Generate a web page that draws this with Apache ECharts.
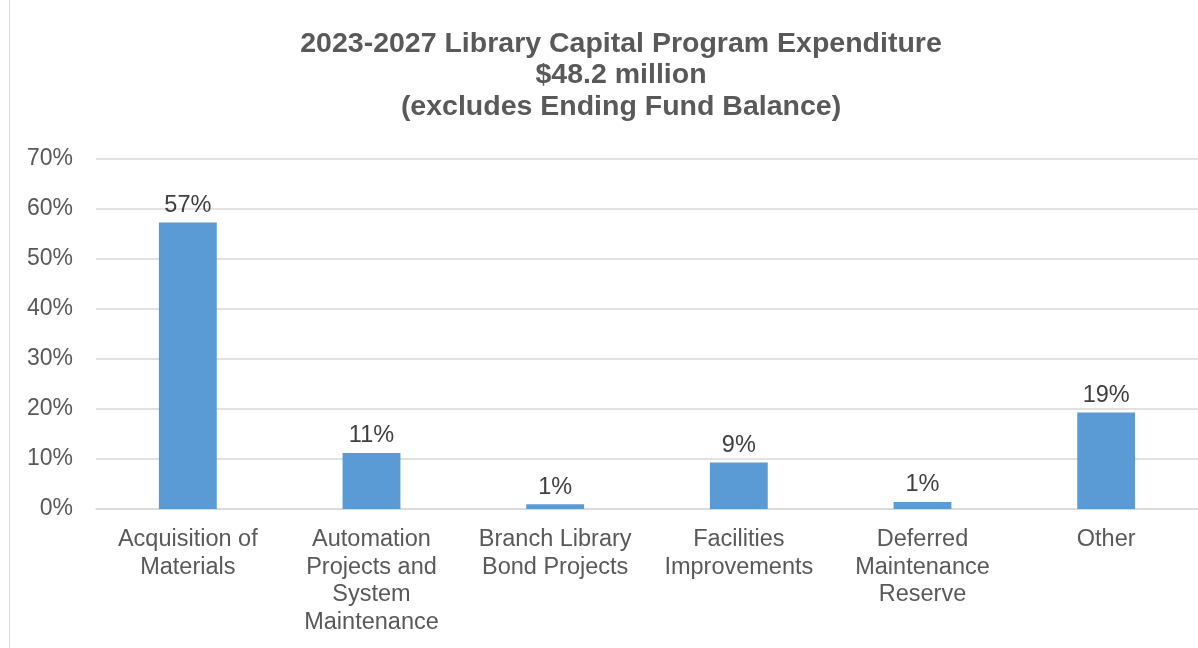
<!DOCTYPE html>
<html>
<head>
<meta charset="utf-8">
<script src="https://cdn.jsdelivr.net/npm/echarts@6/dist/echarts.min.js"></script>
<style>
  html, body { margin: 0; padding: 0; background: #fff; }
  #chart { width: 1198px; height: 648px; }
</style>
</head>
<body>
<div id="chart"></div>
<script>
const categories = [
    'Acquisition of\nMaterials',
    'Automation\nProjects and\nSystem\nMaintenance',
    'Branch Library\nBond Projects',
    'Facilities\nImprovements',
    'Deferred\nMaintenance\nReserve',
    'Other',
]
// share of expenditure, percent
const shares = [57.3, 11.2, 0.95, 9.3, 1.4, 19.3]
const yTicks = { min: 0, max: 70, interval: 10 }
const titleText = '2023-2027 Library Capital Program Expenditure\n$48.2 million\n(excludes Ending Fund Balance)'

const chart = echarts.init(document.getElementById('chart'))
chart.setOption({
    animation: false,
    textStyle: { fontFamily: '"Liberation Sans", Arial, sans-serif' },
    graphic: [{
        type: 'line',
        shape: { x1: 9.5, y1: 0, x2: 9.5, y2: 648 },
        style: { stroke: '#d9d9d9', lineWidth: 1 },
    }, {
        // title is centred on the whole chart box, which runs past the right edge
        type: 'text',
        x: 621,
        y: 28,
        style: {
            text: titleText,
            align: 'center',
            verticalAlign: 'top',
            font: 'bold 28.5px "Liberation Sans", Arial, sans-serif',
            lineHeight: 31.5,
            fill: '#595959',
        },
    }],
    grid: {
        left: 96,
        right: 0,
        top: 159,
        bottom: 139,
    },
    xAxis: {
        type: 'category',
        data: categories,
        axisTick: { show: false },
        axisLine: { lineStyle: { color: '#d9d9d9', width: 1.5 } },
        axisLabel: {
            interval: 0,
            fontSize: 23.5,
            color: '#595959',
            lineHeight: 27.5,
            margin: 17,
        },
    },
    yAxis: {
        type: 'value',
        min: yTicks.min,
        max: yTicks.max,
        interval: yTicks.interval,
        axisLine: { show: false },
        axisTick: { show: false },
        splitLine: { lineStyle: { color: '#d9d9d9', width: 1.5 } },
        axisLabel: {
            fontSize: 23,
            color: '#595959',
            margin: 23,
            formatter: v => v + '%',
        },
    },
    series: [{
        type: 'bar',
        data: shares,
        barWidth: '31.5%',
        itemStyle: { color: '#5b9bd5' },
        label: {
            show: true,
            position: 'top',
            distance: 5,
            fontSize: 23.5,
            color: '#404040',
            formatter: p => Math.round(p.value) + '%',
        },
    }],
})
</script>
</body>
</html>
